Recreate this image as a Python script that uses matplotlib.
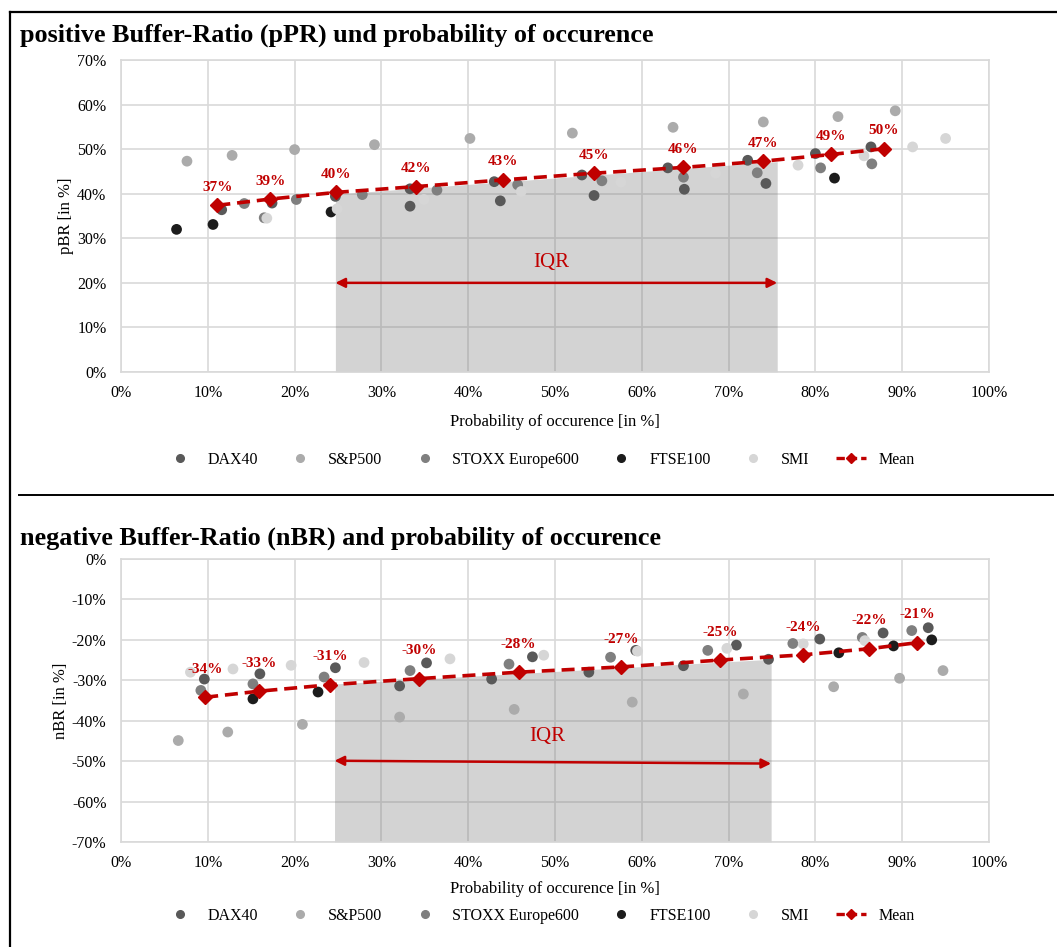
import matplotlib
matplotlib.use('Agg')
import matplotlib.pyplot as plt
from matplotlib.lines import Line2D

plt.rcParams['font.family'] = ['Liberation Serif', 'DejaVu Serif']

# index colours
colors = {'DAX40': '#595959', 'S&P500': '#ababab', 'STOXX Europe600': '#7f7f7f',
          'FTSE100': '#1c1c1c', 'SMI': '#d6d6d6'}
red = '#c00000'

# ---- positive buffer ratio (x: probability in %, y: pBR in %)
pos_dax_x = [11.6, 17.4, 24.7, 33.3, 33.3, 43.0, 43.7, 53.1, 54.5, 63.0, 64.9, 72.2, 74.3, 80.0, 86.4]
pos_dax_y = [36.4, 37.9, 39.4, 41.1, 37.2, 42.7, 38.4, 44.2, 39.6, 45.8, 41.0, 47.5, 42.3, 49.0, 50.5]
pos_sp_x = [7.6, 12.8, 20.0, 29.2, 40.2, 52.0, 63.6, 74.0, 82.6, 89.2]
pos_sp_y = [47.3, 48.6, 49.9, 51.0, 52.4, 53.6, 54.9, 56.1, 57.3, 58.6]
pos_stoxx_x = [14.2, 16.5, 20.2, 27.8, 36.4, 45.7, 55.4, 64.8, 73.3, 80.6, 86.5]
pos_stoxx_y = [37.8, 34.6, 38.7, 39.8, 40.8, 42.0, 42.9, 43.7, 44.7, 45.8, 46.7]
pos_ftse_x = [6.4, 10.6, 24.2, 82.2]
pos_ftse_y = [32.0, 33.1, 35.9, 43.5]
pos_smi_x = [16.8, 24.9, 34.9, 46.1, 57.6, 68.5, 78.0, 85.6, 91.2, 95.0]
pos_smi_y = [34.5, 36.6, 38.7, 40.5, 42.6, 44.6, 46.4, 48.5, 50.5, 52.4]
pos_mean_x = [11.1, 17.2, 24.8, 34.0, 44.0, 54.5, 64.8, 74.0, 81.8, 87.9]
pos_mean_y = [37.4, 38.8, 40.3, 41.6, 43.1, 44.6, 45.9, 47.3, 48.8, 50.1]
pos_iqr_x = [24.7, 75.6]
pos_iqr_top = [39.9, 47.2]
pos_arrow_y = [20.0, 20.0]

# ---- negative buffer ratio (x: probability in %, y: nBR in %)
neg_dax_x = [9.6, 16.0, 24.7, 32.1, 35.2, 42.7, 47.4, 53.9, 59.3, 64.8, 70.9, 74.6, 80.5, 87.8, 93.0]
neg_dax_y = [-29.7, -28.4, -26.9, -31.4, -25.7, -29.7, -24.2, -28.0, -22.6, -26.4, -21.3, -24.8, -19.8, -18.3, -17.0]
neg_sp_x = [6.6, 12.3, 20.9, 32.1, 45.3, 58.9, 71.7, 82.1, 89.7, 94.7]
neg_sp_y = [-44.9, -42.8, -40.9, -39.1, -37.2, -35.4, -33.4, -31.6, -29.5, -27.6]
neg_stoxx_x = [9.2, 15.2, 23.4, 33.3, 44.7, 56.4, 67.6, 77.4, 85.4, 91.1]
neg_stoxx_y = [-32.5, -30.9, -29.2, -27.6, -26.0, -24.3, -22.6, -20.9, -19.4, -17.7]
neg_ftse_x = [15.2, 22.7, 82.7, 89.0, 93.4]
neg_ftse_y = [-34.6, -32.9, -23.2, -21.5, -20.0]
neg_smi_x = [8.0, 12.9, 19.6, 28.0, 37.9, 48.7, 59.5, 69.8, 78.6, 85.7]
neg_smi_y = [-28.0, -27.2, -26.3, -25.6, -24.7, -23.8, -22.8, -22.1, -21.0, -20.2]
neg_mean_x = [9.7, 15.9, 24.1, 34.3, 45.8, 57.6, 69.0, 78.6, 86.2, 91.7]
neg_mean_y = [-34.2, -32.7, -31.1, -29.6, -28.0, -26.7, -25.0, -23.7, -22.2, -20.7]
neg_iqr_x = [24.6, 74.9]
neg_iqr_top = [-30.9, -24.8]
neg_arrow_y = [-49.9, -50.6]

series_names = ['DAX40', 'S&P500', 'STOXX Europe600', 'FTSE100', 'SMI']


def draw_panel(ax, pts, mean_x, mean_y, iqr_x, iqr_top, arrow_y, ylim, ylabel, iqr_text_y, lab_off, xlabpad):
    ax.set_xlim(0, 100)
    ax.set_ylim(*ylim)
    ax.set_xticks(range(0, 101, 10))
    ax.set_xticklabels([f'{t}%' for t in range(0, 101, 10)])
    yt = list(range(ylim[0], ylim[1] + 1, 10))
    ax.set_yticks(yt)
    ax.set_yticklabels([f'{t}%' for t in yt])
    ax.grid(True, color='#d9d9d9', linewidth=1.2, zorder=0)
    ax.set_axisbelow(True)
    for s in ax.spines.values():
        s.set_color('#d9d9d9')
        s.set_linewidth(1.2)
    ax.tick_params(length=0, labelsize=11.5)
    ax.tick_params(axis='x', pad=9.5)
    ax.tick_params(axis='y', pad=10.5)

    # IQR band, from the bottom of the plot up to the band's top line
    ax.fill_between(iqr_x, [ylim[0], ylim[0]], iqr_top, color='#7a7a7a', alpha=0.33, linewidth=0, zorder=1)
    ax.annotate('', xy=(iqr_x[0], arrow_y[0]), xytext=(iqr_x[1], arrow_y[1]),
                arrowprops=dict(arrowstyle='<|-|>', color=red, lw=1.8, mutation_scale=14,
                                shrinkA=0, shrinkB=0), zorder=3)
    ax.text(sum(iqr_x) / 2 - 0.6, iqr_text_y, 'IQR', color=red, fontsize=15, ha='center', va='center', zorder=3)

    for name, (xs, ys) in zip(series_names, pts):
        ax.scatter(xs, ys, s=60, color=colors[name], edgecolors='none', zorder=4, label=name)

    ax.plot(mean_x, mean_y, color=red, linestyle=(0, (3.6, 1.9)), linewidth=2.6, marker='D',
            markersize=7, zorder=5, label='Mean')
    for mx, my in zip(mean_x, mean_y):
        ax.annotate(f'{my:.0f}%', (mx, my), xytext=(0, lab_off), textcoords='offset points',
                    ha='center', va='center', color=red, fontsize=11, fontweight='bold', zorder=6)

    ax.set_xlabel('Probability of occurence [in %]', fontsize=12, labelpad=xlabpad)
    ax.set_ylabel(ylabel, fontsize=12, labelpad=2)


fig = plt.figure(figsize=(10.57, 9.47), dpi=100)

ax1 = fig.add_axes([121 / 1057, 1 - 372 / 947, 868 / 1057, 312 / 947])
draw_panel(ax1,
           [(pos_dax_x, pos_dax_y), (pos_sp_x, pos_sp_y), (pos_stoxx_x, pos_stoxx_y),
            (pos_ftse_x, pos_ftse_y), (pos_smi_x, pos_smi_y)],
           pos_mean_x, pos_mean_y, pos_iqr_x, pos_iqr_top, pos_arrow_y, (0, 70), 'pBR [in %]', 24.5,
           13, 9)

ax2 = fig.add_axes([121 / 1057, 1 - 842 / 947, 868 / 1057, 283 / 947])
draw_panel(ax2,
           [(neg_dax_x, neg_dax_y), (neg_sp_x, neg_sp_y), (neg_stoxx_x, neg_stoxx_y),
            (neg_ftse_x, neg_ftse_y), (neg_smi_x, neg_smi_y)],
           neg_mean_x, neg_mean_y, neg_iqr_x, neg_iqr_top, neg_arrow_y, (-70, 0), 'nBR [in %]', -44,
           20, 7)

# legends
handles = [Line2D([], [], linestyle='none', marker='o', markersize=5.5, color=colors[n]) for n in series_names]
handles.append(Line2D([], [], color=red, linestyle=(0, (2.5, 1.2)), linewidth=2.4, marker='D', markersize=5))
labels = series_names + ['Mean']
for yy in [1 - 460 / 947, 1 - 916 / 947]:
    fig.legend(handles, labels, loc='center', bbox_to_anchor=(540 / 1057, yy), ncol=6, frameon=False,
               fontsize=11.5, handlelength=1.9, columnspacing=1.68, handletextpad=0.8)

# titles
fig.text(20 / 1057, 1 - 35 / 947, 'positive Buffer-Ratio (pPR) und probability of occurence',
         fontsize=18.8, fontweight='bold', va='center', ha='left')
fig.text(20 / 1057, 1 - 538 / 947, 'negative Buffer-Ratio (nBR) and probability of occurence',
         fontsize=18.8, fontweight='bold', va='center', ha='left')

# frame lines
fig.add_artist(Line2D([9.5 / 1057, 9.5 / 1057], [1 - 12.5 / 947, 0], color='black', linewidth=1.6))
fig.add_artist(Line2D([9.5 / 1057, 1], [1 - 12.5 / 947, 1 - 12.5 / 947], color='black', linewidth=1.6))
fig.add_artist(Line2D([19 / 1057, 1053 / 1057], [1 - 495 / 947, 1 - 495 / 947], color='black', linewidth=1.4))

fig.savefig('out.png', dpi=100)
